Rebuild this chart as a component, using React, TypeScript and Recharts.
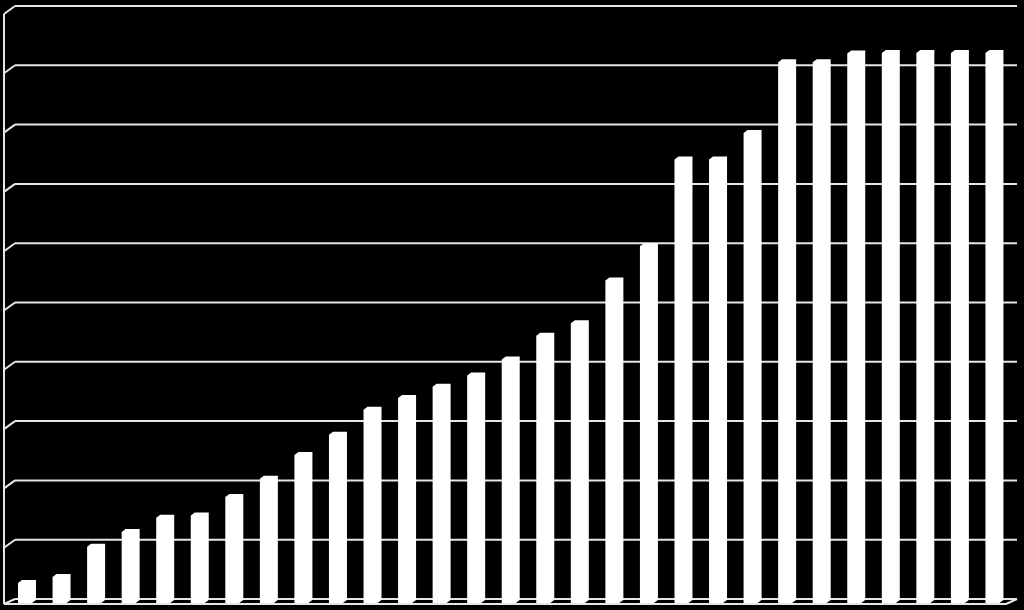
import React from 'react';
import { BarChart, Bar, XAxis, YAxis, CartesianGrid } from 'recharts';

// 29 columns in gridline units (0..10)
const CATEGORIES = [
  '1', '2', '3', '4', '5', '6', '7', '8', '9', '10',
  '11', '12', '13', '14', '15', '16', '17', '18', '19', '20',
  '21', '22', '23', '24', '25', '26', '27', '28', '29',
];
const VALUES = [
  0.32, 0.42, 0.93, 1.18, 1.42, 1.46, 1.77, 2.08, 2.48, 2.82,
  3.24, 3.44, 3.63, 3.82, 4.09, 4.49, 4.70, 5.42, 6.0, 7.46,
  7.46, 7.91, 9.1, 9.1, 9.25, 9.26, 9.26, 9.26, 9.26,
];
const Y_TICKS = [0, 1, 2, 3, 4, 5, 6, 7, 8, 9, 10];

const data = CATEGORIES.map((name, i) => ({ name, value: VALUES[i] }));

const LINE = '#e6e6e6';
// depth of the fake 3D box
const DX = 11;
const DY = 8;

// back-wall gridline plus the slanted piece on the left wall;
// the floor line also gets the front edge and the left wall post
function GridLine(props: any) {
  const { x1, x2, y1, index, y, height } = props;
  const isFloor = Math.abs(y1 - (y + height)) < 1;
  return (
    <g key={`gl-${index}`}>
      <line x1={x1} y1={y1} x2={x2} y2={y1} stroke={LINE} strokeWidth={2} />
      <line x1={x1 - DX} y1={y1 + (isFloor ? 5 : DY)} x2={x1} y2={y1} stroke={LINE} strokeWidth={2} />
      {isFloor && (
        <>
          <line x1={x1 - DX} y1={y1 + 5} x2={x2 - DX} y2={y1 + 5} stroke={LINE} strokeWidth={2} />
          <line x1={x2 - DX} y1={y1 + 5} x2={x2} y2={y1} stroke={LINE} strokeWidth={2} />
          <line x1={x1 - DX} y1={y + DY} x2={x1 - DX} y2={y1 + 5} stroke={LINE} strokeWidth={2} />
        </>
      )}
    </g>
  );
}

// white column with a bevelled top-left / bottom-right, like a 3D bar
function Column(props: any) {
  const { x, y, width, height } = props;
  const x0 = x - 5;
  const bottom = y + height + 4;
  const d = `M${x0},${bottom} L${x0},${y + 3} L${x0 + 4},${y} L${x0 + width},${y} L${x0 + width},${bottom - 3} L${x0 + width - 4},${bottom} Z`;
  return <path d={d} fill="#ffffff" />;
}

export default function App() {
  return (
    <div style={{ position: 'absolute', left: 0, top: 0, width: 1024, height: 610, background: '#000' }}>
      <BarChart
        width={1024}
        height={610}
        data={data}
        margin={{ top: 6, right: 7, bottom: 11, left: 15 }}
      >
        <CartesianGrid vertical={false} horizontal={GridLine} />
        <XAxis dataKey="name" hide />
        <YAxis hide domain={[0, 10]} ticks={Y_TICKS} />
        <Bar dataKey="value" barSize={18} shape={Column} isAnimationActive={false} />
      </BarChart>
    </div>
  );
}
